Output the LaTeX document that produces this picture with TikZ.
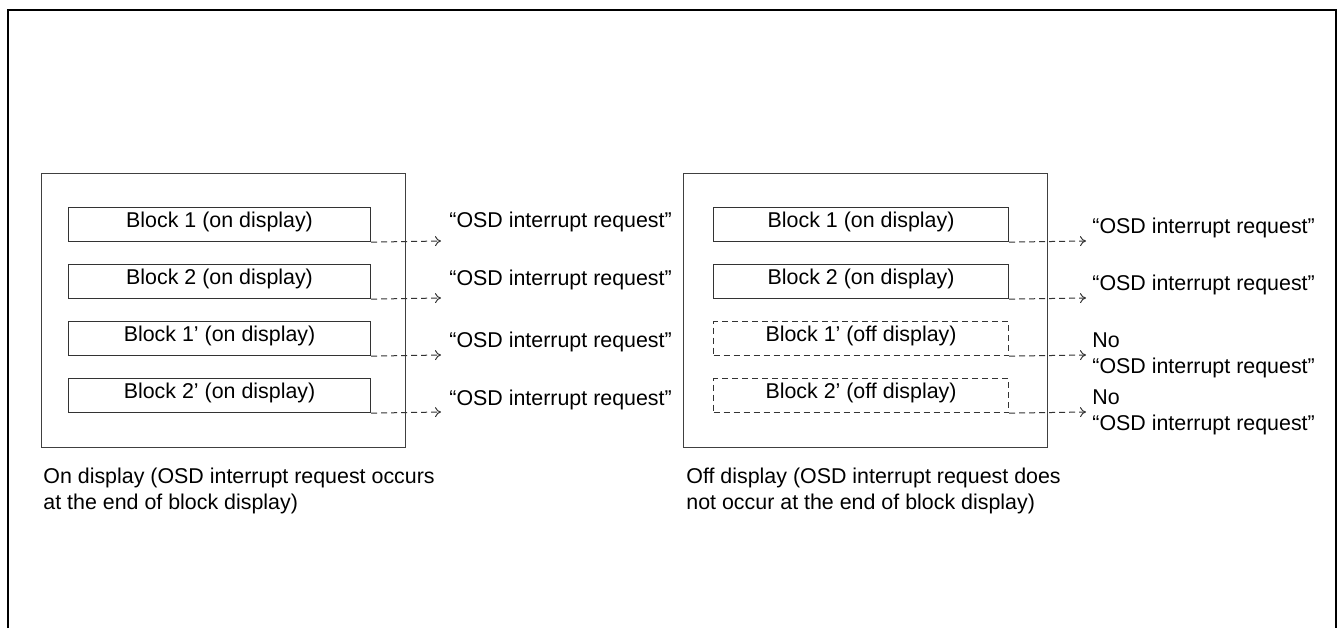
\documentclass[tikz,border=0pt]{standalone}
\usepackage{fontspec}
\setmainfont{Liberation Sans}
\usetikzlibrary{arrows.meta}
\begin{document}
\begin{tikzpicture}[x=0.5pt,y=-0.5pt,
  every node/.style={font=\fontsize{10.7}{13}\selectfont, inner sep=0pt},
  dispbox/.style={draw=black!75, line width=0.6pt, rectangle, minimum height=137pt, anchor=north west},
  onblk/.style={draw=black!80, line width=0.55pt, rectangle, minimum height=17pt, anchor=north west},
  offblk/.style={onblk, dash pattern=on 3pt off 2pt},
  arr/.style={draw=black!80, line width=0.5pt, dash pattern=on 3pt off 2pt, -{To[length=3pt,width=5pt]}},
  lbl/.style={anchor=base west},
  btxt/.style={anchor=base},
  captxt/.style={anchor=base west, align=left, font=\fontsize{10.7}{13}\selectfont}]
\useasboundingbox (0,0) rectangle (1339,628);
% outer frame
\draw[line width=1.1pt] (8,628) -- (8,10) -- (1336,10) -- (1336,628);
% display boxes
\node[dispbox, minimum width=182pt] (L) at (41,173) {};
\node[dispbox, minimum width=182pt] (R) at (683,173) {};
% left blocks
\foreach \i/\t/\txt in {1/207/Block 1 (on display),2/264/Block 2 (on display),3/321/Block 1’ (on display),4/378/Block 2’ (on display)}{
  \node[onblk, minimum width=151pt] (lb\i) at (68,\t) {};
  \node[btxt] (lt\i) at ([yshift=-10pt]lb\i.north) {\txt};
}
% right blocks
\node[onblk, minimum width=147.5pt] (rb1) at (713,207) {};
\node[onblk, minimum width=147.5pt] (rb2) at (713,264) {};
\node[offblk, minimum width=147.5pt] (rb3) at (713,321) {};
\node[offblk, minimum width=147.5pt] (rb4) at (713,378) {};
\node[btxt] (rt1) at ([yshift=-10pt]rb1.north) {Block 1 (on display)};
\node[btxt] (rt2) at ([yshift=-10pt]rb2.north) {Block 2 (on display)};
\node[btxt] (rt3) at ([yshift=-10pt]rb3.north) {Block 1’ (off display)};
\node[btxt] (rt4) at ([yshift=-10pt]rb4.north) {Block 2’ (off display)};
% arrow ends
\foreach \i/\y in {1/241,2/298,3/355,4/412}{
  \coordinate (le\i) at (441,\y);
  \coordinate (re\i) at (1086,\y);
  \draw[arr] (lb\i.south east) -- (le\i);
  \draw[arr] (rb\i.south east) -- (re\i);
}
% left labels
\node[lbl] (ll1) at (449,227) {“OSD interrupt request”};
\node[lbl] (ll2) at (449,285) {“OSD interrupt request”};
\node[lbl] (ll3) at (449,347) {“OSD interrupt request”};
\node[lbl] (ll4) at (449,405) {“OSD interrupt request”};
% right labels
\node[lbl] (rl1) at (1092,233) {“OSD interrupt request”};
\node[lbl] (rl2) at (1092,290) {“OSD interrupt request”};
\node[lbl] (rn3) at (1092,347) {No};
\node[lbl] (rl3) at (1092,373) {“OSD interrupt request”};
\node[lbl] (rn4) at (1092,404) {No};
\node[lbl] (rl4) at (1092,430) {“OSD interrupt request”};
% captions (base = baseline of the last line)
\node[captxt] (lc) at (43,509) {On display (OSD interrupt request occurs\\at the end of block display)};
\node[captxt] (rc) at (686,509) {Off display (OSD interrupt request does\\not occur at the end of block display)};
\end{tikzpicture}
\end{document}
